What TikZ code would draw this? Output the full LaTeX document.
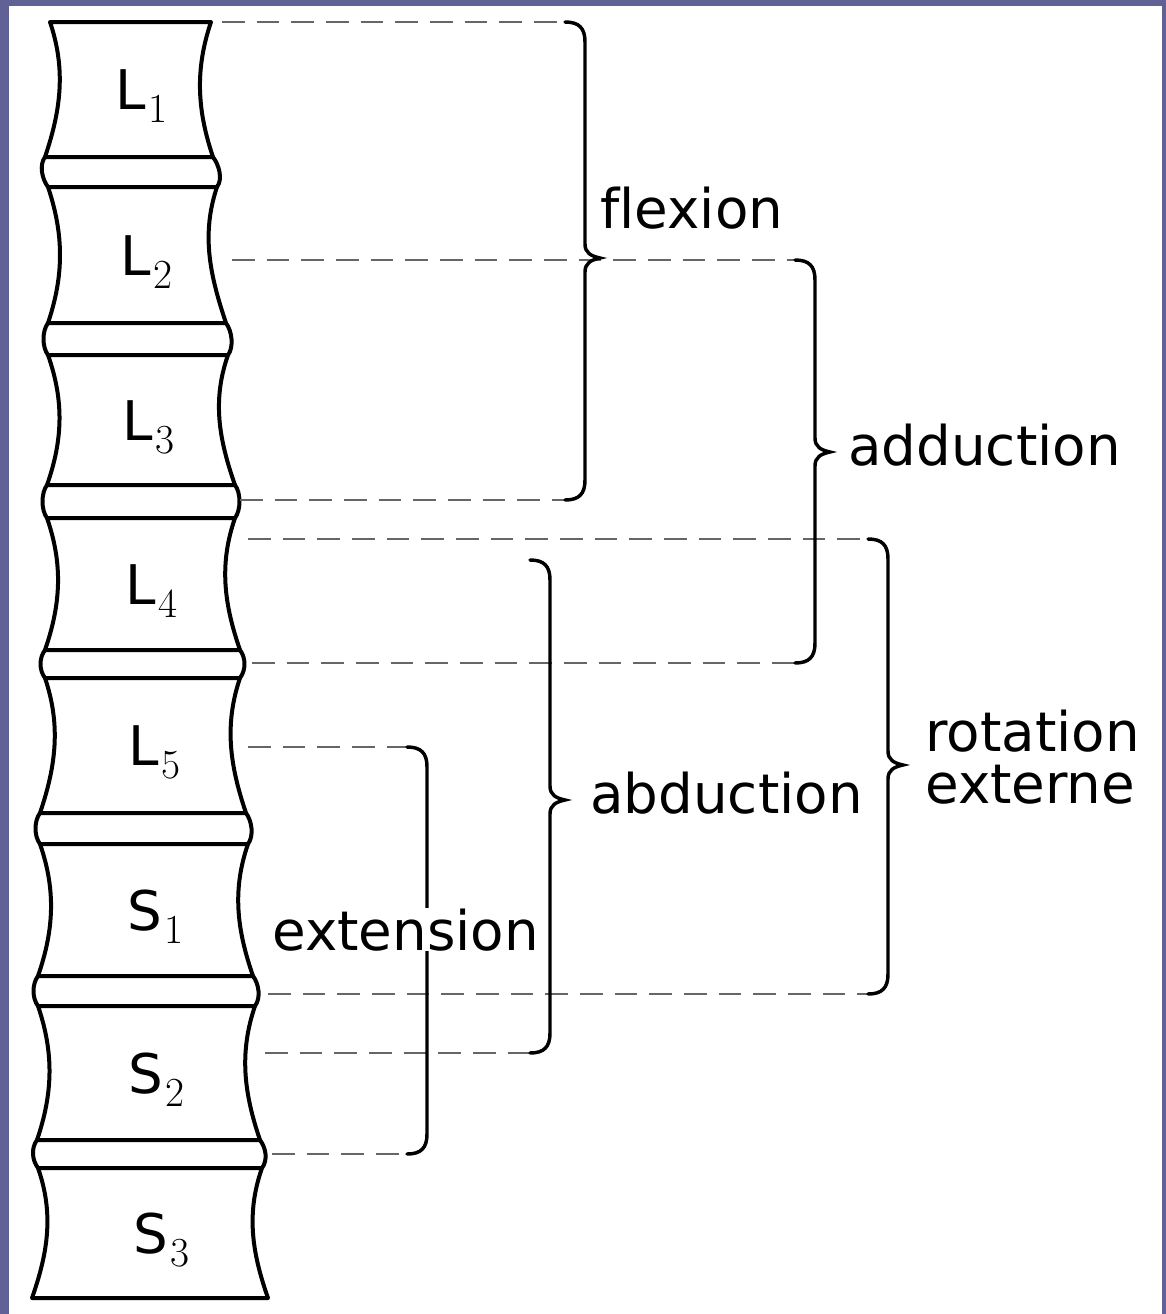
\documentclass[tikz,border=0pt]{standalone}
\usepackage{fontspec}
\newfontfamily\labfont[Ligatures=NoCommon]{DejaVu Sans}
\definecolor{slidebg}{RGB}{96,98,150}
\tikzset{every picture/.style={line width=0.55pt}}
\tikzset{
  bone/.style={line width=3pt, line join=round},
  guide/.style={draw=black!60, line width=1.9pt, dash pattern={on 17pt off 9pt}},
  curly/.style={line width=2.6pt, line cap=round},
  word/.style={anchor=base west, inner sep=0pt, font=\labfont\fontsize{41}{39}\selectfont},
  vlab/.style={anchor=base west, inner sep=0pt, font=\labfont\fontsize{41}{44}\selectfont}
}
% brace: x, top, tip, bottom
\newcommand{\curlybrace}[4]{%
  \draw[curly] ({#1-20},#2) .. controls ({#1-6},#2) and (#1,{#2+6}) .. (#1,{#2+20})
    -- (#1,{#3-14}) .. controls (#1,{#3-5}) and ({#1+6},{#3-2}) .. ({#1+15},#3)
    .. controls ({#1+6},{#3+2}) and (#1,{#3+5}) .. (#1,{#3+14})
    -- (#1,{#4-20}) .. controls (#1,{#4-6}) and ({#1-6},#4) .. ({#1-20},#4);}

\begin{document}
\begin{tikzpicture}[x=0.75pt,y=0.75pt,yscale=-1,xscale=1]
            %Background
            \fill[slidebg] (0,0) rectangle (1166,1314);
            \fill[white] (9,6) rectangle (1162,1314);
            %Vertebrae
            \foreach \vn/\ltr/\num/\ya/\yz/\xa/\xb/\xc/\xd/\xl in {
                L1/L/1/22/157/50/211/45/213/115,
                L2/L/2/187/323/48/217/48/226/120,
                L3/L/3/355/485/48/228/47/235/122,
                L4/L/4/518/650/47/235/45/240/125,
                L5/L/5/678/813/45/240/40/246/128,
                S1/S/1/844/976/40/248/38/253/127,
                S2/S/2/1006/1140/38/255/37/260/128,
                S3/S/3/1168/1298/38/262/32/268/133}{
              \draw[bone] (\xa,\ya) -- (\xb,\ya) .. controls ({\xb-16},{\ya+0.35*(\yz-\ya)}) and ({\xd-16},{\yz-0.35*(\yz-\ya)}) .. (\xd,\yz)
                -- (\xc,\yz) .. controls ({\xc+16},{\yz-0.35*(\yz-\ya)}) and ({\xa+16},{\ya+0.35*(\yz-\ya)}) .. cycle;
              \node[vlab] (\vn) at (\xl,{(\ya+\yz)/2+20}) {\ltr\kern2pt\raisebox{-10pt}{\rmfamily\fontsize{31}{31}\selectfont\num}};
            }
            %Discs
            \foreach \yz/\ya/\xc/\xd/\xa/\xb in {157/187/45/213/48/217, 323/355/48/226/48/228, 485/518/47/235/47/235,
                650/678/45/240/45/240, 813/844/40/246/40/248, 976/1006/38/253/38/255, 1140/1168/37/260/38/262}{
              \draw[bone] (\xc,\yz) .. controls ({\xc-6},{\yz+8}) and ({\xa-6},{\ya-8}) .. (\xa,\ya);
              \draw[bone] (\xd,\yz) .. controls ({\xd+6},{\yz+8}) and ({\xb+6},{\ya-8}) .. (\xb,\ya);
            }
            %Straight Lines
            \draw[guide] (222,22) -- (565,22);
            \draw[guide] (232,260) -- (795,260);
            \draw[guide] (240,500) -- (565,500);
            \draw[guide] (248,539) -- (868,539);
            \draw[guide] (252,663) -- (795,663);
            \draw[guide] (248,747) -- (407,747);
            \draw[guide] (268,994) -- (868,994);
            \draw[guide] (265,1053) -- (530,1053);
            \draw[guide] (272,1154) -- (407,1154);
            %Curve Lines
            \curlybrace{585}{22}{258}{500}
            \curlybrace{815}{260}{452}{663}
            \curlybrace{888}{539}{765}{994}
            \curlybrace{550}{560}{800}{1053}
            \curlybrace{427}{747}{933}{1154}
            % Text Node
            \node[word] (flex) at (600,228) {flexion};
            % Text Node
            \node[word] (add) at (848,465) {adduction};
            % Text Node
            \node[word] (abd) at (590,813) {abduction};
            % Text Node
            \node[word, anchor=north west, align=left] (rot) at (925,710) {rotation\\externe};
            % Text Node
            \node[word, fill=white] (extn) at (272,950) {extension};
\end{tikzpicture}
\end{document}
